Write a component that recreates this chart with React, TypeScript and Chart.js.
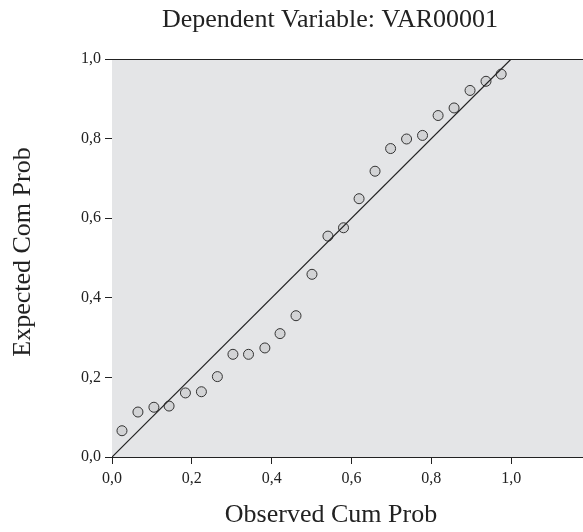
import React, { useEffect, useRef } from "react";
import { Chart, registerables } from "chart.js";

Chart.register(...registerables);

const observedCumProb = [0.025, 0.065, 0.105, 0.143, 0.184, 0.224, 0.264, 0.303, 0.342, 0.383, 0.421, 0.461, 0.501, 0.541, 0.58, 0.619, 0.659, 0.698, 0.738, 0.778, 0.817, 0.857, 0.897, 0.937, 0.975];
const expectedCumProb = [0.066, 0.113, 0.125, 0.128, 0.161, 0.164, 0.202, 0.258, 0.258, 0.274, 0.31, 0.355, 0.459, 0.555, 0.576, 0.649, 0.718, 0.775, 0.799, 0.808, 0.858, 0.877, 0.921, 0.944, 0.962];
const refLineX = [0, 1];
const refLineY = [0, 1];
const tickValues = [0, 0.2, 0.4, 0.6, 0.8, 1.0];
const chartTitle = "Dependent Variable: VAR00001";
const xTitle = "Observed Cum Prob";
const yTitle = "Expected Com Prob";

const FONT = "'Liberation Serif', 'Times New Roman', serif";
const fmt = (v: number) => v.toFixed(1).replace(".", ",");

export default function App() {
  const ref = useRef<HTMLCanvasElement | null>(null);
  useEffect(() => {
    if (!ref.current) return;
    const textPlugin = {
      id: "decor",
      beforeDatasetsDraw(chart: any) {
        const { ctx, chartArea } = chart;
        ctx.save();
        ctx.fillStyle = "#e4e5e7";
        ctx.fillRect(chartArea.left, chartArea.top, chartArea.right - chartArea.left, chartArea.bottom - chartArea.top);
        ctx.strokeStyle = "#222";
        ctx.lineWidth = 1;
        ctx.beginPath();
        ctx.moveTo(chartArea.left, chartArea.top + 0.5);
        ctx.lineTo(chartArea.right, chartArea.top + 0.5);
        ctx.stroke();
        ctx.restore();
      },
      afterDraw(chart: any) {
        const { ctx } = chart;
        ctx.save();
        ctx.fillStyle = "#222";
        ctx.font = `26px ${FONT}`;
        ctx.textAlign = "center";
        ctx.textBaseline = "alphabetic";
        ctx.fillText(chartTitle, 330, 27);
        ctx.fillText(xTitle, 331, 522);
        ctx.translate(30, 252);
        ctx.rotate(-Math.PI / 2);
        ctx.fillText(yTitle, 0, 0);
        ctx.restore();
      },
    };
    const axisCommon = {
      type: "linear" as const,
      grid: { display: true, drawOnChartArea: false, drawTicks: true, tickLength: 7, color: "#222" },
      border: { display: true, color: "#222", width: 1 },
      ticks: {
        font: { family: FONT, size: 16 },
        color: "#222",
        callback: (v: any) => fmt(Number(v)),
      },
    };
    const chart = new Chart(ref.current, {
      type: "scatter",
      data: {
        datasets: [
          {
            type: "line",
            data: refLineX.map((x, i) => ({ x, y: refLineY[i] })),
            borderColor: "#222",
            borderWidth: 1.2,
            pointRadius: 0,
            fill: false,
          } as any,
          {
            data: observedCumProb.map((x, i) => ({ x, y: expectedCumProb[i] })),
            backgroundColor: "#d2d3d5",
            borderColor: "#333",
            borderWidth: 1,
            pointRadius: 5,
          },
        ],
      },
      options: {
        animation: false,
        responsive: false,
        layout: { autoPadding: false, padding: { top: 59, left: 0, right: 0, bottom: 0 } },
        plugins: { legend: { display: false }, tooltip: { enabled: false } },
        scales: {
          x: {
            ...axisCommon,
            min: 0,
            max: 1.18,
            afterBuildTicks: (scale: any) => {
              scale.ticks = tickValues.map((value) => ({ value }));
            },
            afterFit: (scale: any) => {
              scale.height = 75;
            },
            ticks: { ...axisCommon.ticks, padding: 5, maxRotation: 0 },
          },
          y: {
            ...axisCommon,
            min: 0,
            max: 1,
            afterBuildTicks: (scale: any) => {
              scale.ticks = tickValues.map((value) => ({ value }));
            },
            afterFit: (scale: any) => {
              scale.width = 112;
            },
            ticks: { ...axisCommon.ticks, padding: 4 },
          },
        },
      } as any,
      plugins: [textPlugin],
    });
    return () => chart.destroy();
  }, []);
  return (
    <div style={{ position: "absolute", left: 0, top: 0, width: 583, height: 532, background: "#fff" }}>
      <canvas ref={ref} width={583} height={532} style={{ display: "block" }} />
    </div>
  );
}
